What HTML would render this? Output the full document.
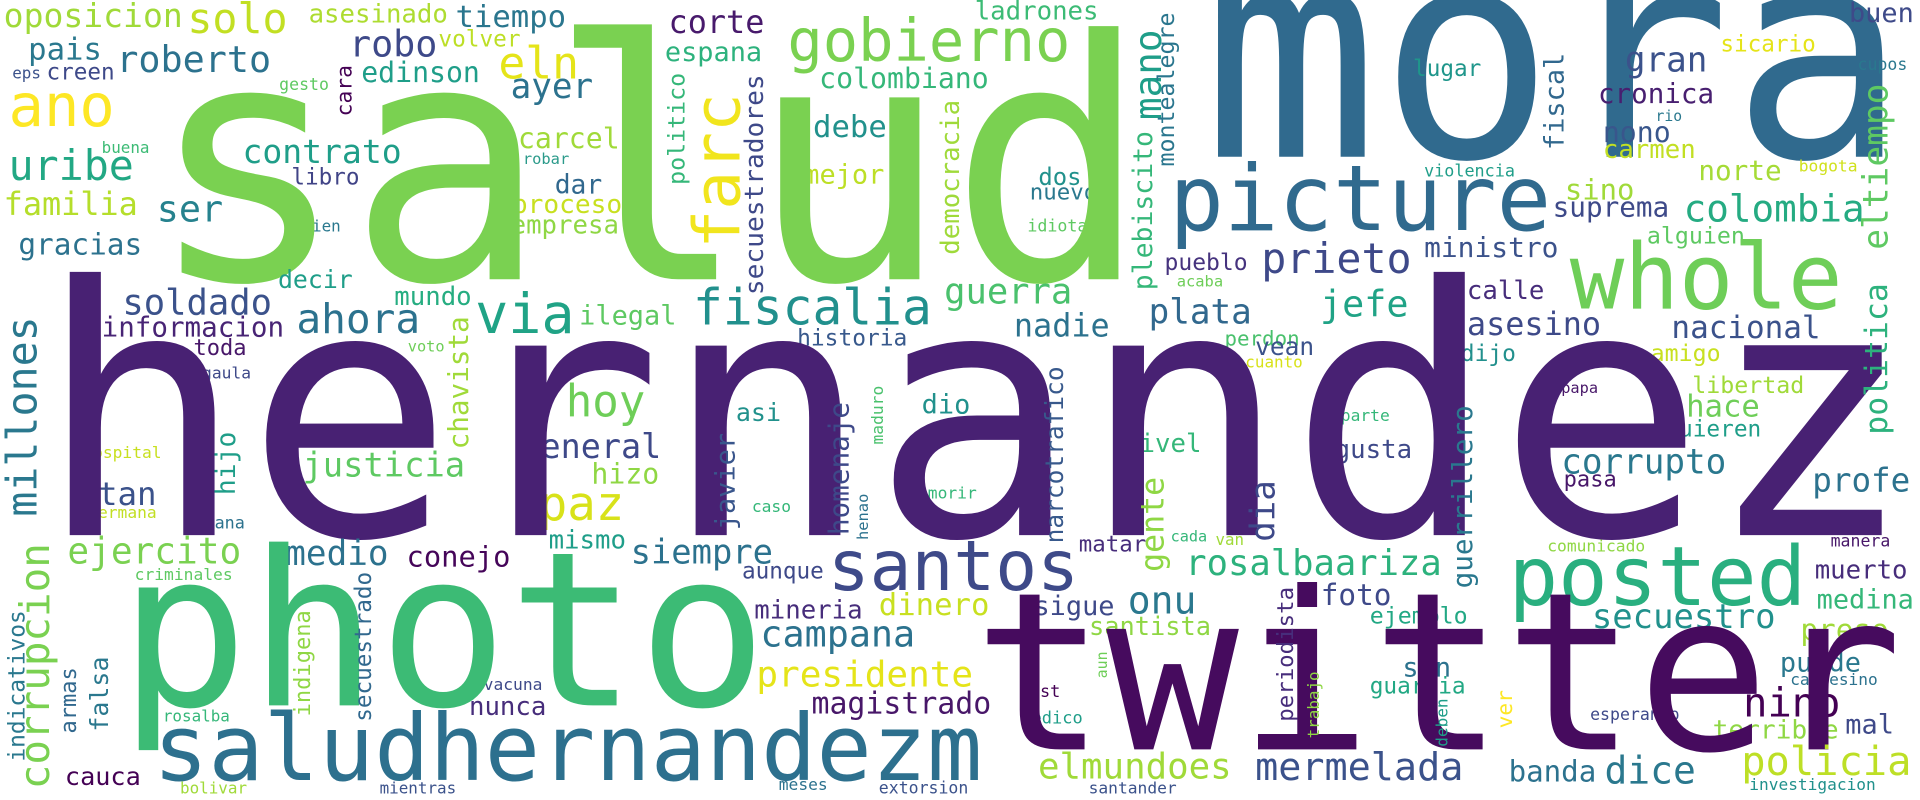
<!DOCTYPE html>
<html><head><meta charset="utf-8"><title>Word cloud</title>
<style>
html,body{margin:0;padding:0;background:#fff;}
svg{display:block;}
text{font-family:"DejaVu Sans Mono","Liberation Mono",monospace;}
</style></head>
<body>
<svg id="cloud" width="1920" height="800" viewBox="0 0 1568 653.3" preserveAspectRatio="none" xmlns="http://www.w3.org/2000/svg">
<rect x="0" y="0" width="1568" height="653.3" fill="#ffffff"/>
</svg>
<script>
// horizontal words: text, x, baseline y, font size, color
const hWords = [
["oposicion",3,22,27,"#a0da39"],["solo",153,27,34,"#c2df23"],["asesinado",252,18.5,21,"#addc30"],
["tiempo",372,22,25,"#2a768e"],["corte",546,27,26,"#481a6c"],["ladrones",796,16,21,"#3cbb75"],
["gobierno",643,50,48,"#7ad151"],["espana",543,50,22,"#2db27d"],["colombiano",669,72,23,"#35b779"],
["mora",982,128,239,"#306a8e"],["buen",1510,18,22,"#3e4a89"],["sicario",1405,42,18.5,"#e5e419"],
["cupos",1517,57,13.5,"#2a788e"],["pais",23,48.5,25,"#2a788e"],["roberto",95,59,30,"#2c728e"],
["robo",285,46,30,"#3e4989"],["volver",358,38,18.6,"#bddf26"],["eln",407,64,36.5,"#e5e419"],
["eps",10,64,13,"#3b528b"],["creen",38,65,18.5,"#3e4989"],["edinson",295,67,23,"#1f9e89"],
["gesto",228,73.5,13.5,"#5ec962"],["ayer",417,80,28,"#2c728e"],["ano",7,103,48,"#fde725"],
["gran",1327,58.5,28,"#3b528b"],["lugar",1154,62,18.5,"#1f968b"],["cronica",1305,84,22.5,"#481f70"],
["rio",1352,99,12,"#2a788e"],["nono",1309,116,23,"#39568c"],["carmen",1309,129,21,"#c2df23"],
["debe",664,112,25,"#21918c"],["uribe",7,147,34,"#22a884"],["contrato",198,133,27,"#1f9e89"],
["carcel",423,121,23,"#a0da39"],["buena",83,125,13,"#3cbb75"],["robar",427,134,12.6,"#2a9a8a"],
["libro",238,150.5,18.5,"#414487"],["mejor",656,150,22,"#bddf26"],["dos",848,151,19.5,"#21918c"],
["nuevo",841,163,18.3,"#2a788e"],["violencia",1163,144,13.7,"#1f9e89"],["bogota",1469,140,13.3,"#d0e11c"],
["norte",1387,147,22.6,"#a5db36"],["familia",3,175.5,26,"#b5de2b"],["ser",128,181,30,"#26828e"],
["dar",453,158,21.5,"#31688e"],["proceso",418,174,21.4,"#c8e020"],["empresa",417,190.5,21,"#8fd744"],
["bien",247,189,13,"#2a788e"],["idiota",839,189,13.6,"#5ec962"],["picture",955,188,74,"#306a8e"],
["sino",1278,163,23.6,"#a0da39"],["suprema",1268,177,22.6,"#3e4a89"],["colombia",1375,181,30.7,"#25ab82"],
["salud",120,228,272,"#7ad151"],["alguien",1345,199,19,"#5ec962"],["gracias",15,208,24,"#2c728e"],
["ministro",1163,210,22.8,"#3b528b"],["pueblo",951,220.5,18.8,"#46337e"],["prieto",1030,223,34,"#3e4989"],
["acaba",961,234,12.6,"#6ece58"],["decir",227,235,20.3,"#1f9e89"],["calle",1198,244,21,"#472d7b"],
["guerra",771,248,29,"#4ac16d"],["whole",1282,252,74,"#6ece58"],["soldado",100,257,29,"#3b528b"],
["mundo",322,249,21,"#26ad81"],["jefe",1078,258.5,30,"#20a386"],["fiscalia",566,265,40.5,"#21908d"],
["plata",938,264,28,"#31688e"],["ilegal",473,265,22,"#5ec962"],["via",388,272,45,"#20a386"],
["ahora",242,272,33.6,"#2c728e"],["nadie",828,275,26,"#2c728e"],["asesino",1198,273.5,26,"#3e4a89"],
["nacional",1365,276,25.3,"#3b528b"],["informacion",83,275,22.5,"#482475"],["historia",651,282,18.7,"#38598c"],
["perdon",1000,282,17,"#4ac16d"],["toda",158,290,18,"#481769"],["voto",333,287,12.5,"#6ece58"],
["vean",1025,290,20,"#3b528b"],["dijo",1193,295,18.7,"#22908d"],["amigo",1348,295,19,"#c8e020"],
["cuanto",1017,300,13,"#d8e219"],["gaula",165,309,13.3,"#3e4989"],["libertad",1382,321,19,"#a0da39"],
["papa",1275,321,12.5,"#481769"],["dio",752.7,337.6,22,"#21918c"],["hoy",462,340,36,"#6ece58"],
["asi",601,344,20.4,"#21918c"],["parte",1095,344,13.3,"#35b779"],["hace",1377,340,25,"#6ece58"],
["quieren",1360,356.6,18.6,"#1f9e89"],["nivel",918,369,21,"#35b779"],["hospital",68,374,13.3,"#c8e020"],
["general",425,374,27.3,"#3e4989"],["gusta",1090,374,21,"#3e4989"],["corrupto",1275,386.6,28,"#2a788e"],
["justicia",247,389,27.6,"#5ec962"],["hizo",483,395,23,"#8fd744"],["pasa",1277,397.5,18,"#481769"],
["profe",1480,401.5,26.6,"#2c728e"],["morir",757.7,407,13.3,"#35b779"],["caso",614,418,13.3,"#35b779"],
["tan",80,412.5,26.5,"#3b528b"],["hermana",72,423,13.3,"#c2df23"],["paz",440,424.7,38.7,"#d8e219"],
["gana",167,431.5,13.7,"#2c728e"],["hernandez",30,437,283,"#482173"],["cada",956,442.4,12.4,"#35b779"],
["van",992.7,445,12.9,"#a0da39"],["manera",1495,446.5,13.5,"#481769"],["mismo",448,447.8,21,"#1f9e89"],
["matar",881,450.5,18.3,"#472d7b"],["comunicado",1263.6,450.5,13.3,"#8fd744"],["ejercito",55,460,29.5,"#7ad151"],
["siempre",515,460,27.6,"#2c728e"],["medio",233,461.4,28,"#2c728e"],["conejo",332,462.8,23.5,"#450559"],
["rosalbaariza",968,469.6,29,"#2db27d"],["aunque",606,472.3,18.5,"#3e4989"],["criminales",110,473.7,13.3,"#5ec962"],
["muerto",1482,472.3,21,"#472d7b"],["santos",676,481.8,56.8,"#3e4a89"],["posted",1232,494,67.3,"#29af7f"],
["foto",1078.6,494,24,"#3e4989"],["medina",1483.6,496.8,22,"#35b779"],["onu",921,501,31,"#2a788e"],
["dinero",717.7,502.3,25,"#c8e020"],["sigue",844,502.3,22,"#3e4989"],["mineria",616,505,21,"#472d7b"],
["ejemplo",1118.6,509,19,"#22a884"],["secuestro",1300,513,27.7,"#21918c"],["santista",889.4,518.6,20.7,"#8fd744"],
["preso",1470.3,522.7,24,"#a0da39"],["campana",621,528,30,"#2c728e"],["puede",1453.6,548.5,22,"#2a788e"],
["san",1145.3,552.6,22,"#2c728e"],["campesino",1462,559.4,13.2,"#2c728e"],["presidente",617.7,560.8,29.4,"#e5e419"],
["vacuna",395,563.5,13.3,"#3e4989"],["guardia",1118.6,566.2,18.6,"#22a884"],["post",832.7,569,13.8,"#440154"],
["photo",97,576,176,"#3cbb75"],["magistrado",662.7,582.6,24.4,"#481769"],["nunca",383,584,21,"#472d7b"],
["nino",1423.6,585.3,33,"#440154"],["esperando",1298.6,588,13.5,"#3e4989"],["rosalba",133,589.4,13,"#35b779"],
["medico",834,590.7,13.9,"#1f9e89"],["mal",1507,598.9,22,"#3e4989"],["terrible",1398.6,603,21.4,"#8fd744"],
["twitter",795,612,180,"#460b5e"],["policia",1422,632.9,33,"#bddf26"],["elmundoes",847.7,635.6,29.2,"#a0da39"],
["saludhernandezm",125,637,75,"#2d708e"],["mermelada",1025,637,31.4,"#3b528b"],["banda",1232,638.3,23.8,"#2c728e"],
["dice",1310.3,639.7,31,"#2a788e"],["cauca",53,641,20.6,"#440154"],["investigacion",1428.6,645,13.2,"#21918c"],
["meses",636,645,13.3,"#2c728e"],["bolivar",147,648,13,"#a0da39"],["mientras",310,648,13,"#3b528b"],
["extorsion",717.7,648,13.5,"#3b528b"],["santander",889,648,13.3,"#3b528b"]
];
// vertical words (read bottom-to-top): text, baseline x, start y (bottom), font size, color
const vWords = [
["cara",287,95,17.4,"#440154"],["farc",604,203,52.7,"#f1e51d"],["politico",559,151,19,"#35b779"],
["secuestradores",623,241,21.4,"#3e4989"],["democracia",783,208,21,"#9fda3a"],["mano",948,98,30.7,"#1f9e89"],
["plebiscito",941,237,21.6,"#35b779"],["montealegre",958.6,136,19,"#2a768e"],["fiscal",1277,122.5,22,"#31688e"],
["eltiempo",1541.5,204,28.2,"#5ec962"],["politica",1541,355,25.7,"#2db27d"],["millones",30,422,34,"#2a788e"],
["chavista",382,367,22.6,"#a0da39"],["corrupcion",40,644.5,33.4,"#7ad151"],["indicativos",20,622,18.7,"#2a788e"],
["armas",62,599,18,"#31688e"],["falsa",88,597.5,20.4,"#2a788e"],["indigena",253,585,18,"#8fd744"],
["secuestrado",303,589.4,18.5,"#31688e"],["hijo",192,404.3,21.5,"#1f9e89"],["javier",600,433,22,"#39568c"],
["homenaje",693,437,22.6,"#3e4989"],["maduro",721,363,13.3,"#4ac16d"],["henao",709,441,12.6,"#2c728e"],
["narcotrafico",868,443.7,20,"#38598c"],["gente",950,467,25.8,"#8fd744"],["dia",1041,442.4,27.8,"#3e4989"],
["aun",904,554,12.2,"#6ece58"],["guerrillero",1202,480.5,22.6,"#2a788e"],["periodista",1056,589.4,18.3,"#472d7b"],
["trabajo",1077,603,13,"#8fd744"],["ver",1235,594.8,17.3,"#fde725"],["deben",1182,609.8,13.1,"#1f9e89"]
];
const svg = document.getElementById('cloud');
const NS = 'http://www.w3.org/2000/svg';
hWords.forEach(function(w){
  const t = document.createElementNS(NS,'text');
  t.setAttribute('x', w[1]);
  t.setAttribute('y', w[2]);
  t.setAttribute('font-size', w[3]);
  t.setAttribute('fill', w[4]);
  
  
  t.textContent = w[0];
  svg.appendChild(t);
});
vWords.forEach(function(w){
  const t = document.createElementNS(NS,'text');
  t.setAttribute('x', 0);
  t.setAttribute('y', 0);
  t.setAttribute('transform', 'translate(' + w[1] + ',' + w[2] + ') rotate(-90)');
  t.setAttribute('font-size', w[3]);
  t.setAttribute('fill', w[4]);
  
  
  t.textContent = w[0];
  svg.appendChild(t);
});
</script>
</body></html>
